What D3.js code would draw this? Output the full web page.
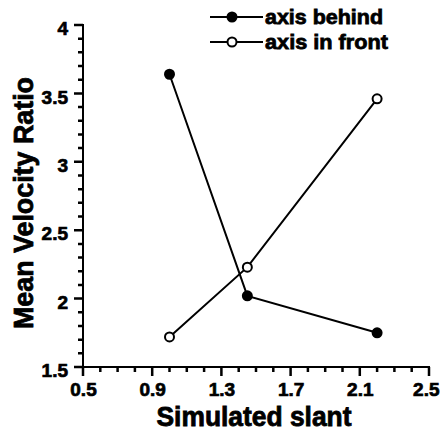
<!DOCTYPE html>
<html>
<head>
<meta charset="utf-8">
<script src="https://cdn.jsdelivr.net/npm/d3@7"></script>
<style>
  body { margin: 0; background: #fff; }
  svg { display: block; }
  .axis text { font-family: "Liberation Sans", Arial, sans-serif; font-weight: bold; font-size: 19px; fill: #000; stroke: #000; stroke-width: 0.7; }
  .title { font-family: "Liberation Sans", Arial, sans-serif; font-weight: bold; fill: #000; stroke: #000; stroke-width: 0.8; }
</style>
</head>
<body>
<svg id="chart"></svg>
<script>
// data
const slant = [1.0, 1.45, 2.2];
const axisBehind = [3.64, 2.02, 1.75];
const axisInFront = [1.72, 2.23, 3.46];
const seriesNames = ['axis behind', 'axis in front'];
const xTicks = [0.5, 0.9, 1.3, 1.7, 2.1, 2.5];
const yTicks = [1.5, 2, 2.5, 3, 3.5, 4];

const width = 441, height = 433;
const margin = {top: 25, right: 12, bottom: 66, left: 83};

const svg = d3.select('#chart')
    .attr('width', width)
    .attr('height', height);

const x = d3.scaleLinear().domain([0.5, 2.5]).range([margin.left, width - margin.right]);
const y = d3.scaleLinear().domain([1.5, 4]).range([height - margin.bottom, margin.top]);

// minor ticks every 0.1
const xMinor = d3.range(5, 26).map(d => d / 10);
const yMinor = d3.range(15, 41).map(d => d / 10);
const isMajor = (list, d) => list.some(t => Math.abs(t - d) < 1e-6);

const x0 = x(0.5), y0 = y(1.5);

// tick marks, pointing outward
const xTickPath = xMinor.map(d => `M${x(d)},${y0}V${y0 + (isMajor(xTicks, d) ? 9 : 5)}`).join('');
const yTickPath = yMinor.map(d => `M${x0},${y(d)}H${x0 - (isMajor(yTicks, d) ? 9 : 5)}`).join('');

svg.append('path')
    .attr('d', xTickPath)
    .attr('fill', 'none')
    .attr('stroke', '#000')
    .attr('stroke-width', 2.5);

svg.append('path')
    .attr('d', yTickPath)
    .attr('fill', 'none')
    .attr('stroke', '#000')
    .attr('stroke-width', 2.5);

// axis lines + labels
const xAxisG = svg.append('g')
    .attr('class', 'axis')
    .attr('transform', `translate(0,${y0})`)
    .call(d3.axisBottom(x).tickValues(xTicks).tickSize(0).tickSizeOuter(0).tickFormat(d3.format('.1f')));
xAxisG.selectAll('text').attr('y', 29).attr('dy', 0);
xAxisG.selectAll('text').filter(d => d === 2.5).attr('text-anchor', 'end').attr('x', 10);
xAxisG.select('.domain').attr('stroke', '#000').attr('stroke-width', 2)
    .attr('d', `M${x0 - 1},0H${x(2.5) + 1}`);

const yAxisG = svg.append('g')
    .attr('class', 'axis')
    .attr('transform', `translate(${x0},0)`)
    .call(d3.axisLeft(y).tickValues(yTicks).tickSize(0).tickSizeOuter(0).tickFormat(d => d));
yAxisG.selectAll('text').attr('x', -15).attr('dy', '0.62em').attr('y', -2);
yAxisG.select('.domain').attr('stroke', '#000').attr('stroke-width', 2)
    .attr('d', `M0,${y(4) - 1}V${y0 + 1}`);

// axis titles
svg.append('text')
    .attr('class', 'title')
    .attr('x', 254)
    .attr('y', 426)
    .attr('text-anchor', 'middle')
    .attr('font-size', 27)
    .attr('textLength', 195)
    .attr('lengthAdjust', 'spacingAndGlyphs')
    .text('Simulated slant');

svg.append('text')
    .attr('class', 'title')
    .attr('transform', 'translate(33,203) rotate(-90)')
    .attr('text-anchor', 'middle')
    .attr('font-size', 28)
    .attr('textLength', 252)
    .attr('lengthAdjust', 'spacingAndGlyphs')
    .text('Mean Velocity Ratio');

// series
const line = d3.line().x(d => x(d[0])).y(d => y(d[1]));
const series = [
    {name: seriesNames[0], values: d3.zip(slant, axisBehind), fill: '#000'},
    {name: seriesNames[1], values: d3.zip(slant, axisInFront), fill: '#fff'}
];

series.forEach(s => {
    svg.append('path')
        .datum(s.values)
        .attr('fill', 'none')
        .attr('stroke', '#000')
        .attr('stroke-width', 2)
        .attr('d', line);
});

series.forEach(s => {
    svg.append('g').selectAll('circle')
        .data(s.values)
        .join('circle')
        .attr('cx', d => x(d[0]))
        .attr('cy', d => y(d[1]))
        .attr('r', 4.5)
        .attr('fill', s.fill)
        .attr('stroke', '#000')
        .attr('stroke-width', 2);
});

// legend
const legend = svg.append('g')
    .attr('transform', 'translate(210,17)');

const item = legend.selectAll('g')
    .data(series)
    .join('g')
    .attr('transform', (d, i) => `translate(0,${i * 25})`);

item.append('line')
    .attr('x1', 0).attr('x2', 53)
    .attr('stroke', '#000')
    .attr('stroke-width', 2);

item.append('circle')
    .attr('cx', 22)
    .attr('r', 4.5)
    .attr('fill', d => d.fill)
    .attr('stroke', '#000')
    .attr('stroke-width', 2);

item.append('text')
    .attr('class', 'title')
    .attr('x', 55)
    .attr('y', 7)
    .attr('font-size', 21)
    .attr('textLength', d => d.name === 'axis behind' ? 118 : 123)
    .attr('lengthAdjust', 'spacingAndGlyphs')
    .text(d => d.name);
</script>
</body>
</html>
